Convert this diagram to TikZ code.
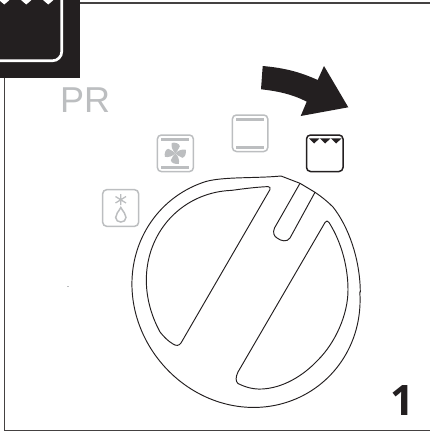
\documentclass[tikz,border=0pt]{standalone}
\usepackage{fontspec}
\setmainfont{Liberation Sans}
\newfontfamily\numfont{Open Sans}
\definecolor{ink}{RGB}{35,31,32}
\definecolor{soft}{RGB}{188,190,192}
\tikzset{x=1pt,y=-1pt,
 frameline/.style={draw=ink!85,line width=1.3pt},
 knob/.style={draw=ink,line width=0.95pt,line join=round},
 softbox/.style={draw=soft,line width=1.5pt,rounded corners=4pt},
 softbar/.style={draw=soft,line width=2.5pt},
 inkbox/.style={draw=ink,line width=1.5pt,rounded corners=4pt}}
\begin{document}
\begin{tikzpicture}
\useasboundingbox (0,0) rectangle (430,436);
\draw[frameline] (4.7,78) -- (4.7,430.3) -- (430,430.3);
\draw[frameline] (80,3) -- (430,3);
\fill[ink] (0,0) rectangle (80,78);
\draw[white,line width=2.7pt,rounded corners=9pt] (0,60.7) -- (61.7,60.7) -- (61.7,0);
\foreach \i in {0,1,2} \fill[white] (-1+\i*22,0) -- (9.5+\i*22,0) -- (4.3+\i*22,4.5) -- cycle;
\node[anchor=base west,text=soft,font=\fontsize{36}{36}\selectfont,inner sep=0pt] (pr) at (60,112) {PR};
% fan
\draw[softbox] (157.4,135) rectangle (193.4,171.6);
\draw[softbar] (161,139.3) -- (189,139.3);
\draw[softbar] (161,167.3) -- (189,167.3);
\foreach \a in {0,90,180,270}
 \fill[soft,shift={(175.3,153.3)},rotate=\a] (0,0) .. controls (-3,-3) and (-4.5,-7) .. (-3.5,-10.5) .. controls (0,-11) and (4,-10) .. (4.5,-7) .. controls (3,-4) and (1.5,-1) .. (0,0) -- cycle;
% defrost
\draw[softbox] (102.7,189.7) rectangle (138.6,226.3);
\draw[soft,line width=1.3pt] (120.8,194) -- (120.8,205) (115.5,196.5) -- (126,203) (115.5,203) -- (126,196.5);
\draw[soft,line width=1.5pt] (120.8,207.5) .. controls (118,212.5) and (115.7,214) .. (115.7,217.5) .. controls (115.7,223.5) and (126,223.5) .. (126,217.5) .. controls (126,214) and (123.6,212.5) .. (120.8,207.5) -- cycle;
% top+bottom
\draw[softbox] (232.4,115) rectangle (267.8,151.5);
\draw[softbar] (236,119.3) -- (264,119.3);
\draw[softbar] (236,147.3) -- (264,147.3);
% grill
\draw[inkbox] (306.5,135) rectangle (343,171.5);
\foreach \i in {0,1,2} \fill[ink] (309+\i*11,138.3) -- (319.5+\i*11,138.3) -- (314.2+\i*11,143.5) -- cycle;
% arrow
\fill[ink] (262.7,66) .. controls (285,68) and (300,72) .. (317.7,80) -- (324,66) -- (348.3,107.3) -- (300.7,116) -- (306.7,101.7) .. controls (292,94) and (277,91) .. (261,89.3) -- cycle;
% knob outer
\draw[knob] (281,176) -- (300,183.3) -- (315,192.3) .. controls (322,197) and (328,202) .. (333,207)
 .. controls (348,226) and (360,258) .. (360.3,292)
 -- plot[domain=0:250,samples=120,variable=\t] ({246+(114.5+4*cos(2*(\t-50)))*cos(\t)},{292+(114.5+4*cos(2*(\t-50)))*sin(\t)})
 .. controls (224,176.5) and (255,178.5) .. (281,176) -- cycle;
% slot
\draw[knob] (300,183.3) -- (274.5,228) .. controls (272.5,233) and (274,236) .. (277,238) .. controls (281,241) and (287,242.5) .. (290,238) -- (315,192.3);
% inner left
\draw[knob] plot[domain=155:262,samples=60,variable=\t] ({246+(100+6*cos(2*(\t-230)))*cos(\t)},{292+(100+6*cos(2*(\t-230)))*sin(\t)})
 .. controls (244,188.6) and (258,187) .. (268,186.6) .. controls (270,186.6) and (270.5,188) .. (270,189.5)
 -- (181,343) .. controls (179,346) and (176,346) .. (173,344) .. controls (168,341) and (164,337) .. (160.1,332.1);
% inner right
\draw[knob] (325,222.5) .. controls (326,220.5) and (328,220.5) .. (329,222.5)
 .. controls (342,243) and (348,268) .. (348,290) .. controls (348,315) and (335,343) .. (318,360)
 .. controls (302,377) and (282,388) .. (262,389) .. controls (253,389.5) and (245,387) .. (238,383.5)
 .. controls (235.5,381.5) and (235.5,377) .. (238,372) -- cycle;
\node[anchor=base,text=ink,font=\numfont\bfseries\fontsize{42}{42}\selectfont,inner sep=0pt] (num) at (402,415) {1};
\fill[soft] (66.5,286.2) rectangle (68.8,287.4);
\end{tikzpicture}
\end{document}
